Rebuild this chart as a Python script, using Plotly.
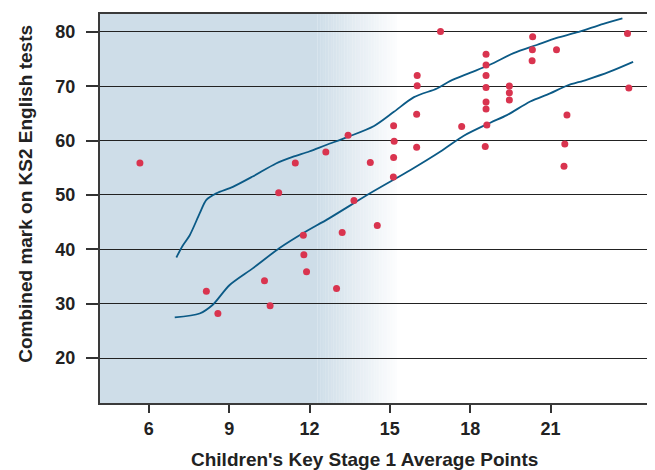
import plotly.graph_objects as go

# ---- data ----
ks1_points = [5.67, 8.15, 8.58, 10.32, 10.53, 10.85, 11.47, 11.77, 11.79, 11.89,
              12.61, 13.01, 13.22, 13.44, 13.66, 14.27, 14.53, 15.14, 15.16, 15.14,
              15.13, 16.02, 16.02, 16.0, 16.0, 16.89, 17.68, 18.59, 18.59, 18.59,
              18.59, 18.59, 18.59, 18.62, 18.56, 19.46, 19.46, 19.46, 20.33, 20.32,
              20.31, 21.22, 21.61, 21.53, 21.50, 23.87, 23.92]
ks2_marks = [55.9, 32.3, 28.2, 34.2, 29.6, 50.4, 55.9, 42.6, 39.0, 35.9,
             57.9, 32.8, 43.1, 61.0, 49.0, 56.0, 44.4, 62.75, 59.9, 56.9,
             53.3, 72.0, 70.1, 64.85, 58.8, 80.1, 62.6, 75.9, 73.9, 72.0,
             69.8, 67.1, 65.8, 62.9, 58.9, 70.05, 68.8, 67.5, 79.1, 76.7,
             74.7, 76.7, 64.7, 59.4, 55.3, 79.7, 69.7]

upper_x = [7.03, 7.26, 7.53, 7.90, 8.15, 8.52, 9.14, 9.88, 10.75, 11.37, 11.99, 12.62,
           13.44, 14.41, 15.15, 15.90, 16.76, 17.26, 18.01, 18.75, 19.62, 20.48,
           21.23, 21.97, 22.97, 23.68]
upper_y = [38.5, 40.6, 42.6, 46.6, 49.1, 50.3, 51.5, 53.4, 55.8, 57.0, 58.0, 59.2,
           60.7, 62.7, 65.3, 68.0, 69.6, 71.0, 72.5, 74.0, 76.1, 77.6,
           78.9, 79.9, 81.5, 82.5]
lower_x = [6.97, 7.90, 8.39, 9.01, 9.88, 10.87, 11.77, 12.73, 14.29, 15.77, 16.89,
           17.76, 18.75, 19.37, 20.24, 20.98, 21.60, 22.34, 23.21, 24.08]
lower_y = [27.5, 28.2, 29.8, 33.4, 36.5, 40.2, 43.0, 45.7, 50.4, 54.6, 58.0,
           60.9, 63.3, 64.7, 67.2, 68.7, 70.1, 71.2, 72.7, 74.5]

x_ticks = [6, 9, 12, 15, 18, 21]
y_ticks = [20, 30, 40, 50, 60, 70, 80]

X_TITLE = "Children's Key Stage 1 Average Points"
Y_TITLE = "Combined mark on KS2 English tests"

X_RANGE = [4.18, 24.71]
Y_RANGE = [11.73, 83.3]

LINE_COLOR = "#0b5a86"
DOT_COLOR = "#d9344f"
BLUE = (206, 221, 232)

fig = go.Figure()

fig.add_trace(go.Scatter(x=upper_x, y=upper_y, mode="lines",
                         line=dict(color=LINE_COLOR, width=1.8, shape="spline", smoothing=0.8),
                         hoverinfo="skip", showlegend=False))
fig.add_trace(go.Scatter(x=lower_x, y=lower_y, mode="lines",
                         line=dict(color=LINE_COLOR, width=1.8, shape="spline", smoothing=0.8),
                         hoverinfo="skip", showlegend=False))
fig.add_trace(go.Scatter(x=ks1_points, y=ks2_marks, mode="markers",
                         marker=dict(color=DOT_COLOR, size=7, line=dict(width=0)),
                         showlegend=False))

# background gradient (blue -> white), drawn below gridlines
shapes = []
solid_end = 12.29
fade_end = 15.26
shapes.append(dict(type="rect", xref="x", yref="paper", x0=X_RANGE[0], x1=solid_end,
                   y0=0, y1=1, fillcolor="rgb(%d,%d,%d)" % BLUE, line=dict(width=0),
                   layer="below"))
n = 50
for i in range(n):
    a = solid_end + (fade_end - solid_end) * i / n
    b = solid_end + (fade_end - solid_end) * (i + 1) / n
    t = 0.95 * (i + 0.5) / n
    c = tuple(int(round(BLUE[k] + (255 - BLUE[k]) * t)) for k in range(3))
    shapes.append(dict(type="rect", xref="x", yref="paper", x0=a, x1=b + 0.01,
                       y0=0, y1=1, fillcolor="rgb(%d,%d,%d)" % c, line=dict(width=0),
                       layer="below"))

FONT = "Liberation Sans, Arial, sans-serif"
TXT = "#222222"

# page body has an 8px default margin: figure is sized/offset to compensate
fig.update_layout(
    width=647, height=462,
    margin=dict(l=92, r=3, t=6, b=67),
    paper_bgcolor="white", plot_bgcolor="white",
    shapes=shapes,
    font=dict(family=FONT, color=TXT),
    xaxis=dict(range=X_RANGE, tickvals=x_ticks, showgrid=False, zeroline=False,
               showline=True, linecolor="#3a3a3a", linewidth=2, mirror=True,
               ticks="outside", ticklen=8, tickwidth=1.5, tickcolor="#333333",
               ticklabelstandoff=0,
               tickfont=dict(size=18, family=FONT, color=TXT, weight="bold")),
    yaxis=dict(range=Y_RANGE, tickvals=y_ticks, showgrid=True, gridcolor="#222222",
               gridwidth=1, zeroline=False,
               showline=True, linecolor="#3a3a3a", linewidth=2, mirror=True,
               ticks="outside", ticklen=12, tickwidth=1.5, tickcolor="#333333",
               ticklabelstandoff=7,
               tickfont=dict(size=18, family=FONT, color=TXT, weight="bold")),
    annotations=[
        dict(text="<b>%s</b>" % X_TITLE, xref="paper", yref="paper",
             x=(365 - 100) / 552, y=-(459 - 403) / 389, xanchor="center", yanchor="middle",
             showarrow=False, font=dict(size=19, family=FONT, color=TXT)),
        dict(text="<b>%s</b>" % Y_TITLE, xref="paper", yref="paper",
             x=-(100 - 25) / 552, y=(403 - 193.5) / 389, xanchor="center", yanchor="middle",
             textangle=-90, showarrow=False, font=dict(size=19, family=FONT, color=TXT)),
    ],
)

fig.write_html("out.html")
